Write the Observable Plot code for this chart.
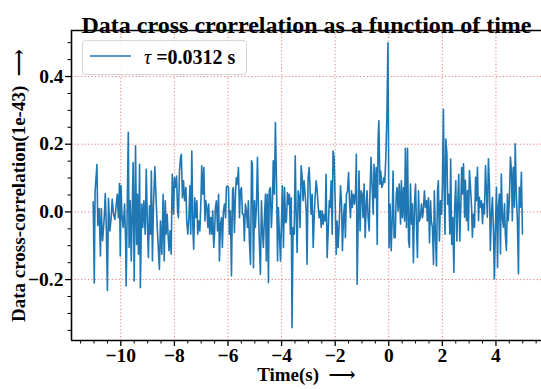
<!DOCTYPE html>
<html><head><meta charset="utf-8">
<script src="https://cdn.jsdelivr.net/npm/d3@7"></script>
<script src="https://cdn.jsdelivr.net/npm/@observablehq/plot@0.6"></script>
<style>
body{margin:0;background:#fff;}
#wrap{position:relative;width:541px;height:389px;overflow:hidden;background:#fff;}
#wrap svg.plot{position:absolute;left:0;top:0;}
#legend{position:absolute;left:82px;top:40px;width:165px;height:35px;border:1px solid #d6d6d6;border-radius:4px;background:rgba(255,255,255,0.85);box-sizing:border-box;}
#legend svg{position:absolute;left:-1px;top:-1px;}
</style></head><body>
<div id="wrap"></div>
<script>
// ---- text ----
const titleText = "Data cross crorrelation as a function of time";
const xLabelText = "Time(s)  \u27F6";
const yLabelText = "Data cross-correlation(1e-43)  \u27F6";
const legendTau = "\u03C4";
const legendRest = " =0.0312 s";

// ---- ticks ----
const xMajor = [-10, -8, -6, -4, -2, 0, 2, 4];
const xMinor = [-11.5, -11, -10.5, -9.5, -9, -8.5, -7.5, -7, -6.5, -5.5, -5, -4.5, -3.5, -3, -2.5, -1.5, -1, -0.5, 0.5, 1, 1.5, 2.5, 3, 3.5, 4.5, 5, 5.5];
const yMajor = [-0.2, 0.0, 0.2, 0.4];
const yMinor = [-0.35, -0.3, -0.25, -0.15, -0.1, -0.05, 0.05, 0.1, 0.15, 0.25, 0.3, 0.35, 0.45, 0.5];
const xDomain = [-11.84, 5.70];
const yDomain = [-0.380, 0.536];

// ---- series: [time (s), cross-correlation (1e-43)] ----
const seg1 = [[-11.03,0.030],[-10.99,-0.210],[-10.96,0.060],[-10.89,0.140],[-10.86,-0.040],[-10.81,0.010],[-10.76,-0.130],[-10.73,0.010],[-10.68,-0.085],[-10.62,-0.020],[-10.58,0.054],[-10.54,-0.046],[-10.50,-0.232],[-10.46,0.040],[-10.41,-0.056],[-10.36,-0.017],[-10.32,0.037],[-10.27,-0.007],[-10.22,-0.022],[-10.17,0.023],[-10.13,0.052],[-10.09,-0.017],[-10.05,0.084],[-10.02,-0.130],[-9.99,0.077],[-9.96,-0.007],[-9.91,-0.046],[-9.86,0.023],[-9.82,-0.086],[-9.80,-0.219],[-9.76,0.013],[-9.72,0.235],[-9.69,-0.105],[-9.65,0.033],[-9.61,-0.145],[-9.58,-0.027],[-9.54,0.146],[-9.50,-0.204],[-9.45,0.195],[-9.41,-0.096],[-9.38,0.052],[-9.34,-0.125],[-9.30,0.141],[-9.27,-0.224],[-9.22,0.023],[-9.18,-0.046],[-9.14,0.033],[-9.09,-0.066],[-9.05,0.126],[-9.01,-0.027],[-8.97,-0.135],[-8.93,0.018],[-8.89,-0.066],[-8.86,0.121],[-8.82,-0.145],[-8.78,0.020]];
const seg2 = [[-8.73,0.133],[-8.64,-0.046],[-8.56,-0.170],[-8.52,-0.027],[-8.47,-0.125],[-8.42,0.052],[-8.38,-0.145],[-8.34,0.033],[-8.31,-0.066],[-8.27,-0.007],[-8.23,-0.076],[-8.20,-0.115],[-8.16,-0.056],[-8.12,-0.125],[-8.08,0.111],[-8.03,-0.007],[-8.00,0.101],[-7.96,0.072],[-7.92,0.106],[-7.88,0.003],[-7.85,-0.017],[-7.81,0.121],[-7.77,0.161],[-7.74,0.170],[-7.70,0.042],[-7.66,0.092],[-7.62,0.033],[-7.57,0.072],[-7.54,-0.027],[-7.50,-0.066],[-7.46,-0.017],[-7.42,0.077],[-7.39,-0.066],[-7.35,0.180],[-7.31,-0.046],[-7.28,-0.110],[-7.24,0.042],[-7.20,-0.017],[-7.16,0.033],[-7.13,-0.066],[-7.09,-0.027],[-7.05,-0.056],[-7.01,0.033],[-6.98,0.136],[-6.94,0.052],[-6.90,0.131],[-6.86,-0.027],[-6.83,0.033],[-6.79,0.013],[-6.75,-0.046],[-6.72,0.023],[-6.68,-0.066],[-6.64,-0.017],[-6.60,-0.066],[-6.57,0.003],[-6.53,-0.105]];
const seg3 = [[-6.50,-0.060],[-6.47,0.013],[-6.43,0.033],[-6.39,-0.056],[-6.35,0.052],[-6.32,-0.145],[-6.28,-0.036],[-6.24,-0.017],[-6.21,-0.105],[-6.17,0.003],[-6.13,0.023],[-6.09,-0.017],[-6.06,0.072],[-6.02,0.077],[-5.98,0.072],[-5.95,-0.066],[-5.91,0.003],[-5.87,-0.189],[-5.83,0.062],[-5.80,0.072],[-5.76,-0.061],[-5.72,0.052],[-5.69,0.101],[-5.65,0.082],[-5.61,0.131],[-5.57,-0.017],[-5.54,0.062],[-5.50,0.072],[-5.46,-0.007],[-5.42,-0.007],[-5.39,-0.086],[-5.35,0.023],[-5.31,0.003],[-5.27,-0.046],[-5.24,0.033],[-5.20,-0.086],[-5.16,-0.155],[-5.12,0.151],[-5.09,0.141],[-5.05,-0.165],[-5.01,0.033],[-4.98,-0.046],[-4.94,0.013],[-4.90,0.161],[-4.86,-0.007],[-4.83,-0.086],[-4.79,-0.184],[-4.75,0.033],[-4.72,-0.046],[-4.68,-0.105],[-4.64,-0.017],[-4.60,0.052],[-4.57,-0.145],[-4.53,0.052],[-4.49,-0.209],[-4.46,0.062],[-4.42,0.072],[-4.38,-0.046],[-4.34,0.033],[-4.31,0.151],[-4.27,0.052],[-4.23,0.264],[-4.19,0.092]];
const seg4 = [[-4.15,-0.145],[-4.12,0.013],[-4.08,-0.066],[-4.04,-0.145],[-4.00,-0.017],[-3.97,0.077],[-3.93,-0.105],[-3.89,0.072],[-3.85,-0.032],[-3.82,-0.027],[-3.78,0.057],[-3.74,0.023],[-3.71,0.052],[-3.67,-0.066],[-3.64,0.042],[-3.61,-0.342],[-3.57,-0.046],[-3.53,-0.066],[-3.49,0.166],[-3.46,0.013],[-3.42,-0.120],[-3.38,0.062],[-3.34,0.042],[-3.31,-0.046],[-3.27,0.136],[-3.23,0.101],[-3.20,0.033],[-3.16,0.092],[-3.12,0.052],[-3.08,0.003],[-3.05,-0.155],[-3.01,0.101],[-2.97,0.131],[-2.93,0.052],[-2.90,-0.007],[-2.86,0.052],[-2.82,-0.105],[-2.78,-0.007],[-2.75,0.042],[-2.71,0.092],[-2.67,0.062],[-2.64,0.023],[-2.60,-0.017],[-2.56,0.003],[-2.52,-0.046],[-2.49,0.003],[-2.45,-0.036],[-2.41,-0.007],[-2.37,-0.027],[-2.34,0.111],[-2.30,-0.135],[-2.26,-0.056],[-2.22,0.033],[-2.19,0.013],[-2.15,0.092],[-2.11,-0.066],[-2.08,0.180],[-2.04,0.161],[-2.00,0.033],[-1.96,-0.125],[-1.93,-0.027],[-1.89,-0.105]];
const seg5 = [[-1.84,-0.017],[-1.80,0.077],[-1.76,0.023],[-1.73,-0.115],[-1.69,-0.017],[-1.65,0.023],[-1.62,-0.076],[-1.58,0.052],[-1.54,0.062],[-1.50,0.116],[-1.47,0.042],[-1.43,-0.017],[-1.39,0.062],[-1.36,0.013],[-1.32,0.052],[-1.28,0.023],[-1.24,0.057],[-1.21,0.170],[-1.18,-0.214],[-1.14,-0.017],[-1.11,0.121],[-1.07,-0.056],[-1.03,0.062],[-0.99,0.052],[-0.96,-0.017],[-0.92,0.082],[-0.88,-0.076],[-0.84,0.023],[-0.81,0.062],[-0.77,-0.017],[-0.73,-0.056],[-0.70,0.062],[-0.66,0.161],[-0.62,0.072],[-0.58,-0.007],[-0.55,0.141],[-0.51,0.042],[-0.47,0.131],[-0.43,-0.096],[-0.40,0.210],[-0.37,0.269],[-0.33,0.082],[-0.30,0.121],[-0.26,0.072],[-0.22,0.082],[-0.19,0.101],[-0.15,0.087],[-0.11,0.161],[-0.07,0.280],[-0.03,0.500],[0.01,-0.105],[0.05,0.023],[0.09,-0.115],[0.13,-0.017],[0.16,0.121],[0.20,-0.076],[0.24,-0.076],[0.28,0.052],[0.31,0.072],[0.35,0.003],[0.39,0.082]];
const seg6 = [[0.44,-0.036],[0.47,0.092],[0.51,-0.017],[0.55,0.072],[0.59,-0.027],[0.62,0.188],[0.66,-0.046],[0.70,0.188],[0.74,-0.086],[0.77,-0.105],[0.81,0.082],[0.85,-0.036],[0.88,0.023],[0.92,-0.150],[0.96,0.023],[1.00,0.082],[1.03,-0.027],[1.07,-0.135],[1.11,0.062],[1.14,-0.027],[1.18,-0.017],[1.22,0.023],[1.26,-0.017],[1.29,0.003],[1.33,0.062],[1.37,0.013],[1.41,0.033],[1.44,-0.027],[1.48,0.042],[1.52,-0.091],[1.56,0.033],[1.59,-0.027],[1.63,-0.046],[1.67,-0.155],[1.70,0.062],[1.74,-0.066],[1.78,-0.160],[1.82,0.062],[1.85,0.092],[1.89,-0.086],[1.93,0.033],[1.97,-0.007],[2.00,0.072],[2.04,0.303],[2.07,0.052],[2.10,-0.066],[2.13,0.215],[2.17,0.170],[2.20,0.023],[2.24,0.052],[2.28,-0.066],[2.31,0.156],[2.35,-0.096],[2.39,-0.017],[2.43,-0.179],[2.46,0.013],[2.50,0.092],[2.54,-0.086],[2.58,0.033],[2.61,0.111],[2.65,-0.086],[2.69,0.023],[2.72,0.131]];
const seg7 = [[2.75,0.053],[2.79,0.142],[2.83,-0.016],[2.86,0.093],[2.90,-0.026],[2.94,0.063],[2.97,-0.055],[3.01,0.122],[3.05,0.073],[3.09,0.014],[3.12,-0.075],[3.16,-0.006],[3.20,-0.045],[3.24,0.102],[3.27,0.033],[3.31,0.132],[3.35,-0.026],[3.38,0.043],[3.42,0.014],[3.46,0.033],[3.50,-0.035],[3.53,0.024],[3.57,-0.006],[3.61,0.137],[3.65,0.053],[3.68,-0.016],[3.72,0.157],[3.76,0.073],[3.79,-0.114],[3.83,-0.006],[3.87,0.043],[3.91,-0.065],[3.94,-0.198],[3.98,-0.045],[4.02,0.073],[4.06,-0.164],[4.09,0.014],[4.13,0.053],[4.17,-0.124],[4.20,0.112],[4.24,-0.016],[4.28,-0.045],[4.32,0.024],[4.35,-0.065],[4.39,-0.114],[4.43,0.053],[4.46,-0.026],[4.50,0.033],[4.54,0.162],[4.58,0.122],[4.61,-0.026],[4.65,0.132],[4.69,0.014],[4.72,0.201],[4.76,0.053],[4.80,-0.026],[4.84,-0.183],[4.87,0.073],[4.91,0.014],[4.95,0.117],[4.99,-0.065]];

const series = [seg1, seg2, seg3, seg4, seg5, seg6, seg7].flat().map(([t, v]) => ({t, v}));

const lineColor = "#1f77b4";
const gridColor = "#d62728";
const serif = "'Liberation Serif', 'Times New Roman', 'DejaVu Serif', serif";
const minus = s => s.replace("-", "\u2212");

const chart = Plot.plot({
  width: 541, height: 389,
  marginLeft: 71, marginRight: 0, marginTop: 30, marginBottom: 49,
  style: {fontFamily: serif, background: "transparent", color: "black", overflow: "visible"},
  x: {domain: xDomain},
  y: {domain: yDomain},
  marks: [
    Plot.gridX(xMajor, {stroke: gridColor, strokeOpacity: 0.6, strokeDasharray: "1.2,2.2", strokeWidth: 1}),
    Plot.gridY(yMajor, {stroke: gridColor, strokeOpacity: 0.6, strokeDasharray: "1.2,2.2", strokeWidth: 1}),
    Plot.line(series, {x: "t", y: "v", stroke: lineColor, strokeWidth: 1.6}),
    Plot.ruleX([xDomain[0]], {stroke: "black", strokeWidth: 1.6}),
    Plot.ruleY([yDomain[0]], {stroke: "black", strokeWidth: 1.6}),
    Plot.ruleY([yDomain[1]], {stroke: "black", strokeWidth: 1.6}),
    Plot.axisX(xMinor, {anchor: "bottom", tickSize: 3.5, strokeWidth: 1, tickFormat: () => "", fontSize: 1, label: null}),
    Plot.axisY(yMinor, {anchor: "left", tickSize: 3.5, strokeWidth: 1, tickFormat: () => "", fontSize: 1, label: null}),
    Plot.axisX(xMajor, {anchor: "bottom", tickSize: 6, tickPadding: 2, strokeWidth: 1.3,
      tickFormat: d => minus(String(d)), fontSize: 19.5, fontWeight: "bold", label: null}),
    Plot.axisY(yMajor, {anchor: "left", tickSize: 6, tickPadding: 2, strokeWidth: 1.3,
      tickFormat: d => minus(d.toFixed(1)), fontSize: 19.5, fontWeight: "bold", label: null}),
    Plot.text([titleText], {frameAnchor: "top", dy: -15, fontSize: 24, fontWeight: "bold", fill: "black"}),
    Plot.text([xLabelText], {frameAnchor: "bottom", dy: 40, fontSize: 19, fontWeight: "bold", fill: "black"}),
    Plot.text([yLabelText], {frameAnchor: "left", textAnchor: "middle", dx: -53, rotate: -90, fontSize: 19, fontWeight: "bold", fill: "black"})
  ]
});
chart.classList.add("plot");
const wrap = document.getElementById("wrap");
wrap.appendChild(chart);

const legend = document.createElement("div");
legend.id = "legend";
legend.innerHTML = `<svg width="165" height="35" xmlns="http://www.w3.org/2000/svg">
  <line x1="8" x2="49" y1="16" y2="16" stroke="${lineColor}" stroke-width="1.5"/>
  <text x="62" y="24" font-family="${serif.replace(/'/g, '&quot;')}" font-size="20" font-weight="bold" fill="black"><tspan font-style="italic" font-weight="normal">${legendTau}</tspan>${legendRest}</text>
</svg>`;
wrap.appendChild(legend);
</script>
</body></html>
